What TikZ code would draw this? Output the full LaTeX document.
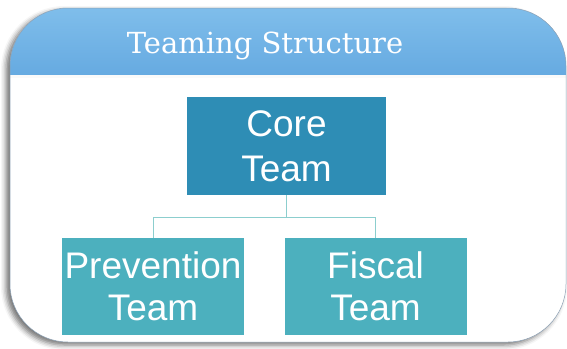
\documentclass[tikz,border=0pt]{standalone}
\usepackage{fontspec}
\setmainfont{Liberation Sans}
\newfontfamily\headfont{DejaVu Serif}
\usetikzlibrary{shadows,shadows.blur,calc}
\definecolor{headtop}{RGB}{130,192,236}
\definecolor{headbot}{RGB}{102,170,225}
\definecolor{corecol}{RGB}{46,141,181}
\definecolor{teamcol}{RGB}{76,176,190}
\definecolor{linkcol}{RGB}{140,206,206}
\definecolor{framecol}{RGB}{140,160,180}
\tikzset{
  teambox/.style={fill=teamcol, text=white, inner sep=0pt, align=center,
    minimum width=182pt, minimum height=97pt,
    font=\fontsize{37}{42}\selectfont},
  corebox/.style={teambox, fill=corecol, minimum width=199pt, minimum height=98pt,
    font=\fontsize{37}{45}\selectfont},
  link/.style={draw=linkcol, line width=1pt},
  frameshape/.style={rounded corners=58pt},
}
\begin{document}
\begin{tikzpicture}[x=1pt,y=-1pt]
\useasboundingbox (0,0) rectangle (567,348);
% frame with shadow
\fill[white, frameshape, blur shadow={shadow xshift=-4pt, shadow yshift=-3pt, shadow blur radius=5pt, shadow opacity=55}]
  (10,8) rectangle (566,342);
\begin{scope}
  \clip[frameshape] (10,8) rectangle (566,342);
  \shade[top color=headtop, bottom color=headbot] (0,0) rectangle (567,75);
  \fill[white!96!gray] (0,75) rectangle (567,78);
\end{scope}
\draw[framecol, line width=0.5pt, frameshape] (10,8) rectangle (566,342);
\node[text=white, font=\headfont\fontsize{29}{32}\selectfont, anchor=base] (title) at (265,53) {Teaming Structure};
% boxes
\node[corebox] (core) at (286.5,146) {Core\\Team};
\node[teambox] (prev) at (153,286.5) {Prevention\\Team};
\node[teambox] (fisc) at (375.5,286.5) {Fiscal\\Team};
\coordinate (bus) at (286.5,217);
\draw[link] (core.south) -- (bus) -| (prev.north);
\draw[link] (bus) -| (fisc.north);
\end{tikzpicture}
\end{document}
